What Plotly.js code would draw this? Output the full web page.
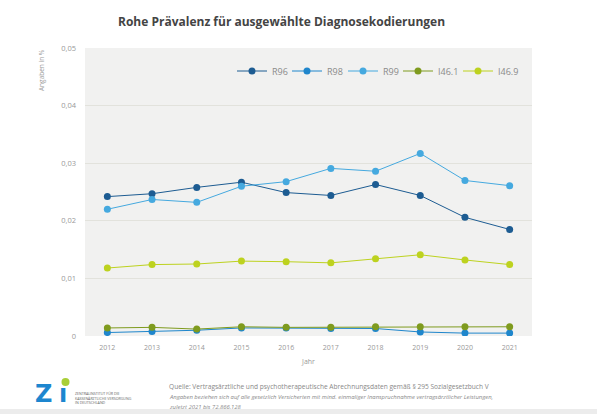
<!DOCTYPE html>
<html>
<head>
<meta charset="utf-8">
<script src="https://cdn.plot.ly/plotly-3.0.1.min.js"></script>
<style>html,body{margin:0;padding:0;background:#fff;}#chart{width:597px;height:414px;}</style>
</head>
<body>
<div id="chart"></div>
<script>
const years = [2012, 2013, 2014, 2015, 2016, 2017, 2018, 2019, 2020, 2021];
const seriesNames = ["R96", "R98", "R99", "I46.1", "I46.9"];
const r96  = [0.0242, 0.0247, 0.0258, 0.0267, 0.0249, 0.0244, 0.0263, 0.0244, 0.0206, 0.0185];
const r98  = [0.0006, 0.0008, 0.0010, 0.0014, 0.0014, 0.0013, 0.0013, 0.0007, 0.0005, 0.0005];
const r99  = [0.0220, 0.0237, 0.0232, 0.0260, 0.0268, 0.0291, 0.0286, 0.0317, 0.0270, 0.0261];
const i461 = [0.0014, 0.0015, 0.0012, 0.0016, 0.0015, 0.0015, 0.0016, 0.0016, 0.0016, 0.0016];
const i469 = [0.0118, 0.0124, 0.0125, 0.0130, 0.0129, 0.0127, 0.0134, 0.0141, 0.0132, 0.0124];
const yTicks = [0, 0.01, 0.02, 0.03, 0.04, 0.05];
const yTickText = ["0", "0,01", "0,02", "0,03", "0,04", "0,05"];

const colors = ["#1d5c92", "#1f86cc", "#45a9df", "#7f9b1e", "#bdd21f"];
const allValues = [r96, r98, r99, i461, i469];
const legendIds = ["legend", "legend2", "legend3", "legend4", "legend5"];
const legendPx = [232, 287, 343, 398, 458];

const traces = allValues.map((vals, i) => ({
  x: years, y: vals, name: seriesNames[i], type: "scatter", mode: "lines+markers",
  line: {color: colors[i], width: 1},
  marker: {color: colors[i], size: 7},
  legend: legendIds[i],
  hoverinfo: "skip"
}));

// pixel -> paper helpers (plot area: x 85..532, y 48..336)
const L = 85, R = 532, T = 48, B = 336;
const px = v => (v - L) / (R - L);
const py = v => (B - v) / (B - T);

const font = "Open Sans, Noto Sans, sans-serif";

const layout = {
  width: 597, height: 414,
  margin: {l: L, r: 597 - R, t: T, b: 414 - B},
  paper_bgcolor: "#ffffff",
  plot_bgcolor: "#f1f1f0",
  font: {family: font, color: "#8a8a8a", size: 8},
  separators: ",.",
  showlegend: true,
  xaxis: {
    range: [2011.5, 2021.5], tickvals: years, ticktext: years.map(String),
    showgrid: false, zeroline: false, showline: false, ticks: "",
    tickfont: {size: 7, color: "#999"}, ticklabelstandoff: 6,
    title: {text: "Jahr", font: {size: 7, color: "#999"}, standoff: 8},
    fixedrange: true
  },
  yaxis: {
    range: [0, 0.05], tickvals: yTicks, ticktext: yTickText,
    showgrid: true, gridcolor: "#e2e2dc", gridwidth: 1, zeroline: false, showline: false, ticks: "",
    tickfont: {size: 7.5, color: "#999"}, ticklabelstandoff: 8,
    fixedrange: true
  },
  shapes: [
    {type: "circle", xref: "paper", yref: "paper", x0: px(61.5), x1: px(69.5), y0: py(378), y1: py(386),
     fillcolor: "#a9cf38", line: {width: 0}},
    {type: "rect", xref: "paper", yref: "paper", x0: px(0), x1: px(597), y0: py(414), y1: py(409),
     fillcolor: "#ececec", line: {width: 0}, layer: "below"}
  ],
  annotations: [
    {text: "<b>Rohe Prävalenz für ausgewählte Diagnosekodierungen</b>", xref: "paper", yref: "paper",
     x: px(281), y: py(21), xanchor: "center", yanchor: "middle", showarrow: false,
     font: {family: font, size: 12, color: "#444"}},
    {text: "Angaben in %", xref: "paper", yref: "paper", x: px(42), y: py(47), textangle: -90,
     xanchor: "center", yanchor: "top", showarrow: false, font: {family: font, size: 6.5, color: "#999"}},
    {text: "Z", xref: "paper", yref: "paper", x: px(33), y: py(394), xanchor: "left", yanchor: "middle",
     showarrow: false, font: {family: "DejaVu Sans, sans-serif", size: 24, weight: 900, color: "#1d86cf"}},
    {text: "ı", xref: "paper", yref: "paper", x: px(57), y: py(394), xanchor: "left", yanchor: "middle",
     showarrow: false, font: {family: "DejaVu Sans, sans-serif", size: 24, weight: 900, color: "#1d86cf"}},
    {text: "ZENTRALINSTITUT FÜR DIE<br>KASSENÄRZTLICHE VERSORGUNG<br>IN DEUTSCHLAND", xref: "paper", yref: "paper",
     x: px(73), y: py(389), xanchor: "left", yanchor: "top", align: "left", showarrow: false,
     font: {family: font, size: 3.6, color: "#666"}},
    {text: "Quelle: Vertragsärztliche und psychotherapeutische Abrechnungsdaten gemäß § 295 Sozialgesetzbuch V",
     xref: "paper", yref: "paper", x: px(167), y: py(386), xanchor: "left", yanchor: "middle", showarrow: false,
     font: {family: font, size: 6.6, color: "#888"}},
    {text: "<i>Angaben beziehen sich auf alle gesetzlich Versicherten mit mind. einmaliger Inanspruchnahme vertragsärztlicher Leistungen,</i>",
     xref: "paper", yref: "paper", x: px(167), y: py(397), xanchor: "left", yanchor: "middle", showarrow: false,
     font: {family: font, size: 5.9, color: "#888"}},
    {text: "<i>zuletzt 2021 bis 72.866.128</i>",
     xref: "paper", yref: "paper", x: px(167), y: py(407), xanchor: "left", yanchor: "middle", showarrow: false,
     font: {family: font, size: 5.9, color: "#888"}}
  ]
};

legendIds.forEach((id, i) => {
  layout[id] = {
    orientation: "h", x: px(legendPx[i]), y: py(71), xanchor: "left", yanchor: "middle",
    bgcolor: "rgba(0,0,0,0)", font: {size: 9, color: "#8a8a8a"}, itemwidth: 30
  };
});

Plotly.newPlot("chart", traces, layout, {displayModeBar: false, staticPlot: true});
</script>
</body>
</html>
